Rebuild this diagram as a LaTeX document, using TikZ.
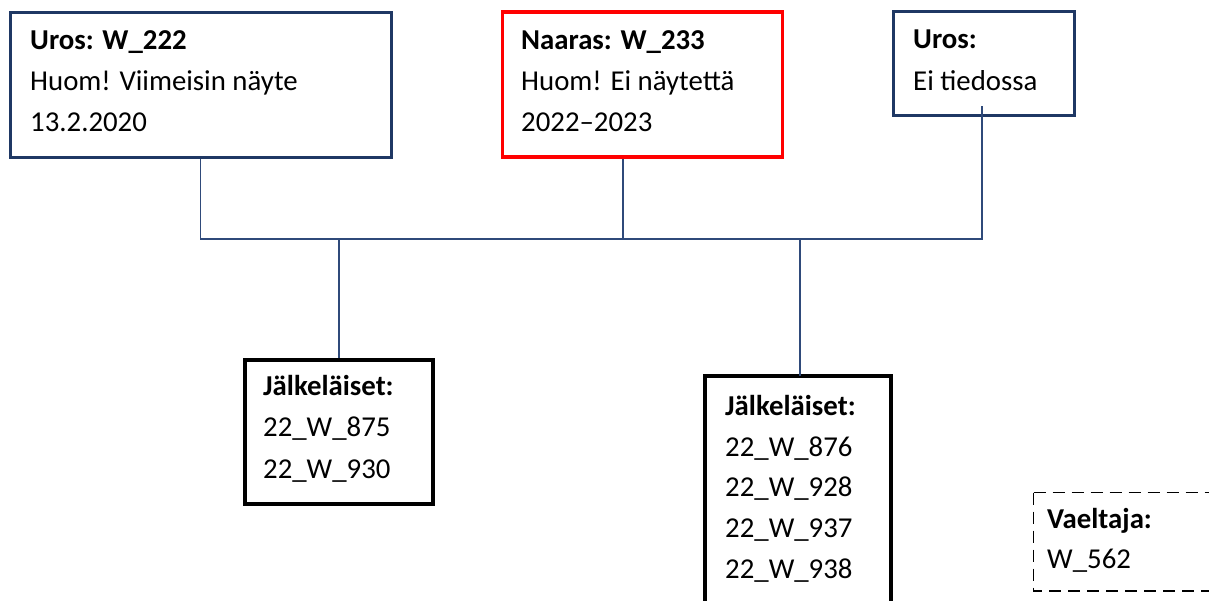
\documentclass[tikz,border=0pt]{standalone}
\usepackage{fontspec}
\setmainfont{Carlito}
\usetikzlibrary{calc}
\definecolor{navy}{RGB}{31,56,100}
\definecolor{connblue}{RGB}{47,74,122}
\begin{document}
\begin{tikzpicture}[x=1pt,y=-1pt,
  box/.style={rectangle, inner sep=0pt, anchor=north west},
  navybox/.style={box, draw=navy, line width=3pt},
  redbox/.style={box, draw=red, line width=3.5pt},
  blackbox/.style={box, draw=black, line width=4pt},
  dashline/.style={draw=black, line width=1.5pt, dash pattern=on 12pt off 7pt},
  conn/.style={draw=connblue, line width=1.6pt},
  txt/.style={anchor=base west, inner sep=0pt, font=\fontsize{28.8}{32}\selectfont},
  btxt/.style={txt, font=\fontsize{28.8}{32}\selectfont\bfseries}]
\useasboundingbox (0,0) rectangle (1209,601);

% parent boxes
\node[navybox, minimum width=381pt, minimum height=145pt] (uros1) at (8.5,11) {};
\node[redbox, minimum width=280pt, minimum height=145pt] (naaras) at (500.5,10.5) {};
\node[navybox, minimum width=181pt, minimum height=104pt] (uros2) at (891.5,10.5) {};

% child boxes
\node[blackbox, minimum width=188pt, minimum height=144pt] (lapset1) at (243,358) {};
\node[box, minimum width=186pt, minimum height=225pt] (lapset2) at (705,376) {};
\draw[black, line width=4pt] (lapset2.south west) -- (lapset2.north west) -- (lapset2.north east) -- (lapset2.south east);

% wanderer box (dashed, open towards the right edge)
\node[box, minimum width=175.5pt, minimum height=98pt] (vaeltaja) at (1033.5,492.5) {};
\draw[dashline] (vaeltaja.north west) -- (vaeltaja.north east);
\draw[dashline] (vaeltaja.north west) -- (vaeltaja.south west) -- (vaeltaja.south east);

% texts
\node[btxt] (t1a) at (30,50) {Uros: W\_222};
\node[txt]  (t1b) at (30,91) {Huom! Viimeisin näyte};
\node[txt]  (t1c) at (30,132) {13.2.2020};

\node[btxt] (t2a) at (521,50) {Naaras: W\_233};
\node[txt]  (t2b) at (521,91) {Huom! Ei näytettä};
\node[txt]  (t2c) at (521,132) {2022–2023};

\node[btxt] (t3a) at (913,49) {Uros:};
\node[txt]  (t3b) at (913,91) {Ei tiedossa};

\node[btxt] (c1a) at (263,395) {Jälkeläiset:};
\node[txt]  (c1b) at (263,436) {22\_W\_875};
\node[txt]  (c1c) at (263,478) {22\_W\_930};

\node[btxt] (c2a) at (725,415) {Jälkeläiset:};
\node[txt]  (c2b) at (725,456) {22\_W\_876};
\node[txt]  (c2c) at (725,496) {22\_W\_928};
\node[txt]  (c2d) at (725,537) {22\_W\_937};
\node[txt]  (c2e) at (725,578) {22\_W\_938};

\node[btxt] (v1) at (1047,528) {Vaeltaja:};
\node[txt]  (v2) at (1047,568) {W\_562};

% connectors
\coordinate (bar) at (0,239);
\coordinate (tie1) at ($(uros1.south west)!0.5!(uros1.south east)$);
\coordinate (tie2) at ($(naaras.south west)+(122.5,0)$);
\coordinate (tie3) at (982,106);
\coordinate (drop1) at (lapset1.north);
\coordinate (drop2) at ($(lapset2.north)+(2,0)$);

\draw[conn] (tie1) -- (tie1 |- bar) -- (tie3 |- bar) -- (tie3);
\draw[conn] (tie2) -- (tie2 |- bar);
\draw[conn] (drop1 |- bar) -- (drop1);
\draw[conn] (drop2 |- bar) -- (drop2);
\end{tikzpicture}
\end{document}
